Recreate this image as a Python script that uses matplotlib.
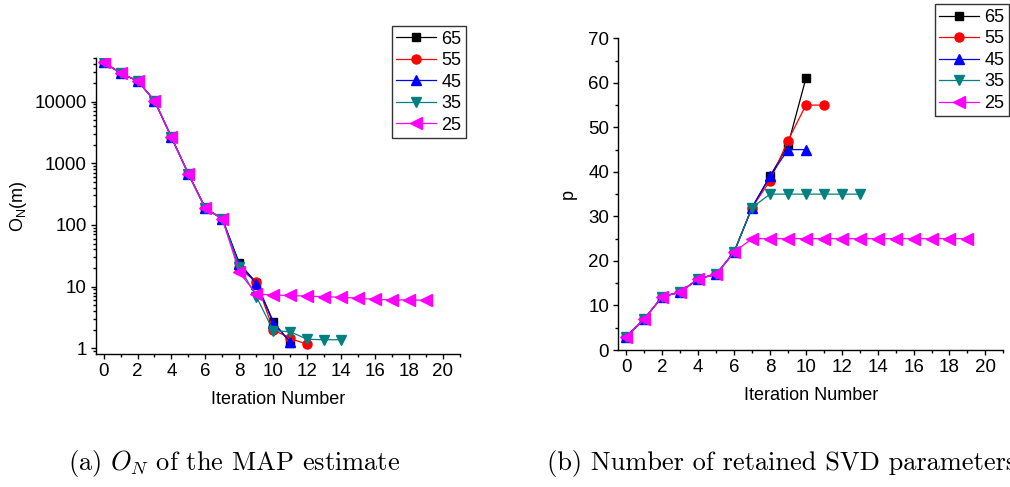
import matplotlib
matplotlib.use("Agg")
import matplotlib.pyplot as plt
from matplotlib.ticker import LogLocator, MultipleLocator, NullFormatter, FixedLocator

plt.rcParams['font.family'] = ['Liberation Sans', 'DejaVu Sans']
plt.rcParams['mathtext.fontset'] = 'cm'

labels = ["65", "55", "45", "35", "25"]
colors = ["#000000", "#ff0000", "#0000ff", "#008080", "#ff00ff"]
markers = ["s", "o", "^", "v", "<"]
msizes = [5.5, 6.5, 7.5, 7.5, 8]

# Panel (a): O_N of the MAP estimate (log scale)
on_65 = [44200, 28600, 21700, 10300, 2630, 668, 186, 125, 23.9, 11.6, 2.7, 1.23]
on_55 = [44200, 28600, 21700, 10300, 2630, 668, 186, 125, 19.8, 12.0, 2.0, 1.45, 1.16]
on_45 = [44200, 28600, 21700, 10300, 2630, 668, 186, 125, 23.0, 11.2, 2.6, 1.27]
on_35 = [44200, 28600, 21700, 10300, 2630, 668, 186, 125, 21.0, 6.9, 1.93, 1.86, 1.40, 1.38, 1.38]
on_25 = [44200, 28600, 21700, 10300, 2630, 668, 186, 125, 17.0, 7.6, 7.3, 7.2, 7.0, 6.9, 6.7, 6.5, 6.2, 6.1, 6.1, 6.0]

# Panel (b): number of retained SVD parameters
p_65 = [3, 7, 12, 13, 16, 17, 22, 32, 39, 46, 61]
p_55 = [3, 7, 12, 13, 16, 17, 22, 32, 38, 47, 55, 55]
p_45 = [3, 7, 12, 13, 16, 17, 22, 32, 39, 45, 45]
p_35 = [3, 7, 12, 13, 16, 17, 22, 32, 35, 35, 35, 35, 35, 35]
p_25 = [3, 7, 12, 13, 16, 17, 22, 25, 25, 25, 25, 25, 25, 25, 25, 25, 25, 25, 25, 25]

xticks = [0, 2, 4, 6, 8, 10, 12, 14, 16, 18, 20]

fig = plt.figure(figsize=(10.10, 4.87), dpi=100)
ax1 = fig.add_axes([0.0950, 0.2731, 0.3604, 0.6078])
ax2 = fig.add_axes([0.6122, 0.2813, 0.3812, 0.6401])

TFS = 13.5
LFS = 13

def style(ax):
    for s in ["top", "right"]:
        ax.spines[s].set_visible(False)
    for s in ["left", "bottom"]:
        ax.spines[s].set_linewidth(1.0)
    ax.tick_params(which="major", direction="out", length=3.6, width=1.0,
                   labelsize=TFS, pad=3)
    ax.tick_params(which="minor", direction="out", length=2.2, width=1.0)
    ax.xaxis.set_major_locator(FixedLocator(xticks))
    ax.xaxis.set_minor_locator(MultipleLocator(1))
    ax.set_xlim(-0.45, 21)
    ax.set_xlabel("Iteration Number", fontsize=LFS, labelpad=8)

series1 = [on_65, on_55, on_45, on_35, on_25]
series2 = [p_65, p_55, p_45, p_35, p_25]

for ax, series in [(ax1, series1), (ax2, series2)]:
    for vals, lab, c, m, ms in zip(series, labels, colors, markers, msizes):
        ax.plot(range(len(vals)), vals, color=c, marker=m, markersize=ms,
                markerfacecolor=c, markeredgecolor=c, linewidth=0.9, label=lab)
    style(ax)

ax1.set_yscale("log")
ax1.set_ylim(0.81, 50700)
ax1.yaxis.set_minor_locator(LogLocator(base=10, subs=range(2, 10), numticks=20))
ax1.yaxis.set_minor_formatter(NullFormatter())
ax1.set_yticks([1, 10, 100, 1000, 10000])
ax1.set_yticklabels(["1", "10", "100", "1000", "10000"])
ax1.set_ylabel(r"$\mathregular{O_N(m)}$", fontsize=LFS, labelpad=4)

ax2.set_ylim(0, 70)
ax2.yaxis.set_major_locator(MultipleLocator(10))
ax2.yaxis.set_minor_locator(MultipleLocator(5))
ax2.set_ylabel("p", fontsize=LFS, labelpad=8)

leg_kw = dict(fontsize=LFS, frameon=True, fancybox=False, handlelength=2.2,
              handletextpad=0.3, labelspacing=0.25, borderpad=0.25,
              borderaxespad=0)
l1 = ax1.legend(loc="upper right", bbox_to_anchor=(0.4614, 0.9466),
                bbox_transform=fig.transFigure, **leg_kw)
l2 = ax2.legend(loc="upper right", bbox_to_anchor=(0.999, 0.991),
                bbox_transform=fig.transFigure, **leg_kw)
for l in (l1, l2):
    l.get_frame().set_edgecolor("black")
    l.get_frame().set_linewidth(1.0)

fig.text(0.067, 0.049, r"(a) $O_N$ of the MAP estimate", family="cmr10",
         fontsize=19, va="center", ha="left")
# The reference image crops this caption at its right edge
fig.text(0.542, 0.049, r"(b) Number of retained SVD parameters", family="cmr10",
         fontsize=19, va="center", ha="left")

fig.savefig("out.png", dpi=100)
